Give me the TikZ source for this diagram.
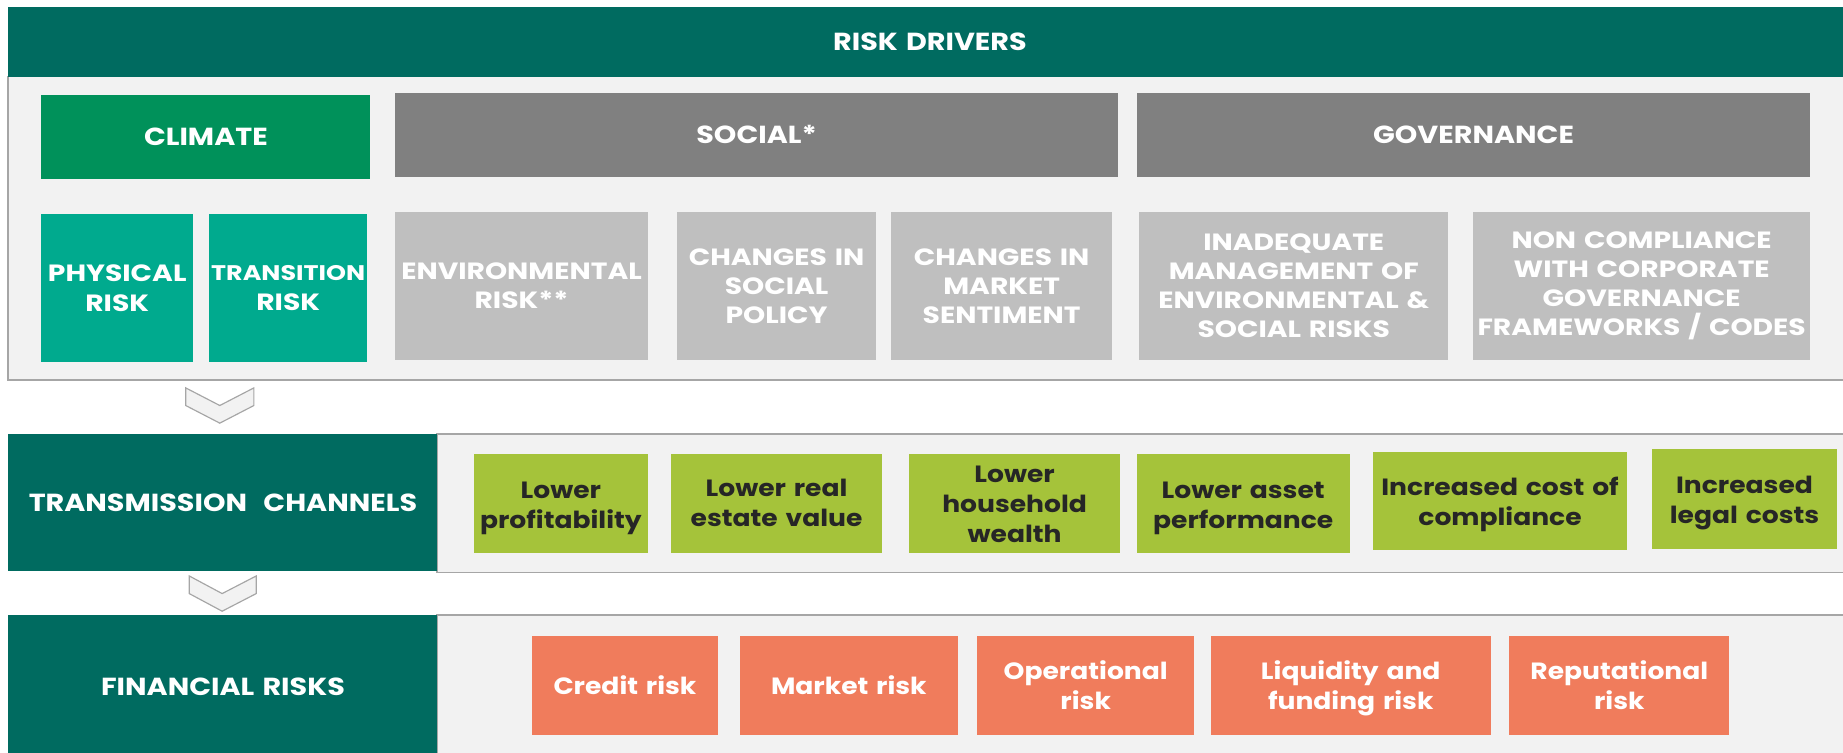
\documentclass[tikz,border=0pt]{standalone}
\usepackage{fontspec}
\setmainfont{Poppins}[FakeStretch=1.13]
\newfontfamily\capsfont{Poppins}[FakeStretch=1.2]
\newfontfamily\hdrfont{Poppins}[FakeStretch=1.16]
\definecolor{dteal}{HTML}{006B60}
\definecolor{cgreen}{HTML}{00915A}
\definecolor{lteal}{HTML}{00AA8E}
\definecolor{dgray}{HTML}{808080}
\definecolor{lgray}{HTML}{BFBFBF}
\definecolor{lime}{HTML}{A5C33A}
\definecolor{orng}{HTML}{F07C5C}
\definecolor{panel}{HTML}{F2F2F2}
\definecolor{pline}{HTML}{A6A6A6}
\definecolor{dtext}{HTML}{262626}
\newcommand\mkbox[7]{%
  \pgfmathsetmacro\boxw{#5-#3}%
  \pgfmathsetmacro\boxh{#6-#4}%
  \pgfmathsetmacro\boxt{#5-#3-2}%
  \node[#1, minimum width=\boxw pt, minimum height=\boxh pt, text width=\boxt pt] (#2) at (#3,#4) {#7};}
\begin{document}
\begin{tikzpicture}[x=1pt,y=-1pt,
  base/.style={anchor=north west, inner sep=0pt, align=center, font=\bfseries\fontsize{20}{25}\selectfont},
  nudge/.style={execute at begin node={\rule{0pt}{#1}}},
  hdr/.style={base, fill=dteal, text=white, font=\hdrfont\bfseries\fontsize{21}{26}\selectfont},
  climbox/.style={base, fill=cgreen, text=white, font=\hdrfont\bfseries\fontsize{21}{26}\selectfont},
  catbox/.style={base, fill=dgray, text=white, font=\hdrfont\bfseries\fontsize{21}{26}\selectfont},
  tealbox/.style={base, fill=lteal, text=white, font=\capsfont\bfseries\fontsize{20}{25.5}\selectfont},
  greybox/.style={base, fill=lgray, text=white, font=\capsfont\bfseries\fontsize{20}{24.6}\selectfont},
  limebox/.style={base, fill=lime, text=dtext, font=\bfseries\fontsize{20}{25.5}\selectfont},
  orbox/.style={base, fill=orng, text=white, font=\bfseries\fontsize{20}{25.5}\selectfont},
  panelfill/.style={fill=panel},
  panelline/.style={draw=pline, line width=1.5pt},
  chev/.style={fill=panel, draw=pline, line width=1pt, line join=miter}
]
\useasboundingbox (0,0) rectangle (1568,640);
% panels
\fill[panelfill] (7,65) rectangle (1580,323);
\draw[panelline] (1580,65) -- (7,65) -- (7,323) -- (1580,323);
\fill[panelfill] (372,369) rectangle (1580,487);
\draw[panelline] (1580,369) -- (372,369) -- (372,487) -- (1580,487);
\fill[panelfill] (372,523) rectangle (1580,650);
\draw[panelline] (1580,523) -- (372,523) -- (372,650);
% header bars
\mkbox{hdr}{drivers}{7}{6}{1575}{65}{RISK DRIVERS}
\mkbox{hdr}{trans}{7}{369}{372}{486}{TRANSMISSION\ \ CHANNELS}
\mkbox{hdr}{fin}{7}{523}{372}{645}{FINANCIAL RISKS}
% categories
\mkbox{climbox}{climate}{35}{81}{315}{152}{CLIMATE}
\mkbox{catbox}{social}{336}{79}{951}{150}{SOCIAL*}
\mkbox{catbox}{gov}{967}{79}{1540}{150}{GOVERNANCE}
% drivers
\mkbox{tealbox}{phys}{35}{182}{164}{308}{PHYSICAL\\RISK}
\mkbox{tealbox}{transr}{178}{182}{312}{308}{{\fontsize{18}{25.5}\selectfont TRANSITION}\\RISK}
\mkbox{greybox}{env}{336}{180}{551}{306}{ENVIRONMENTAL\\RISK**}
\mkbox{greybox}{socpol}{576}{180}{745}{306}{CHANGES IN\\SOCIAL\\POLICY}
\mkbox{greybox}{market}{758}{180}{946}{306}{CHANGES IN\\MARKET\\SENTIMENT}
\mkbox{greybox}{inadeq}{969}{180}{1232}{306}{INADEQUATE\\MANAGEMENT OF\\ENVIRONMENTAL \&\\SOCIAL RISKS}
\mkbox{greybox}{noncomp}{1253}{180}{1540}{306}{NON COMPLIANCE\\WITH CORPORATE\\GOVERNANCE\\FRAMEWORKS / CODES}
% transmission channels
\mkbox{limebox, nudge=22pt}{profit}{403}{386}{551}{470}{Lower\\profitability}
\mkbox{limebox}{realest}{571}{386}{750}{470}{Lower real\\estate value}
\mkbox{limebox, nudge=16pt}{house}{773}{386}{953}{470}{Lower\\household\\wealth}
\mkbox{limebox, nudge=22pt}{asset}{967}{386}{1148}{470}{Lower asset\\performance}
\mkbox{limebox, nudge=21pt}{compl}{1168}{384}{1384}{468}{Increased cost of\\compliance}
\mkbox{limebox, nudge=22pt}{legal}{1405}{382}{1563}{467}{Increased\\legal costs}
% financial risks
\mkbox{orbox}{credit}{452}{541}{611}{625}{Credit risk}
\mkbox{orbox}{marketr}{629}{541}{815}{625}{Market risk}
\mkbox{orbox}{oper}{831}{541}{1016}{625}{Operational\\risk}
\mkbox{orbox, nudge=21pt}{liq}{1030}{541}{1268}{625}{Liquidity and\\funding risk}
\mkbox{orbox}{rep}{1284}{541}{1471}{625}{Reputational\\risk}
% chevrons
\draw[chev] (158,330) -- (187,345) -- (216,330) -- (216,345) -- (187,360) -- (158,345) -- cycle;
\draw[chev] (161,490) -- (189,505) -- (218,490) -- (218,505) -- (189,520) -- (161,505) -- cycle;
\end{tikzpicture}
\end{document}
